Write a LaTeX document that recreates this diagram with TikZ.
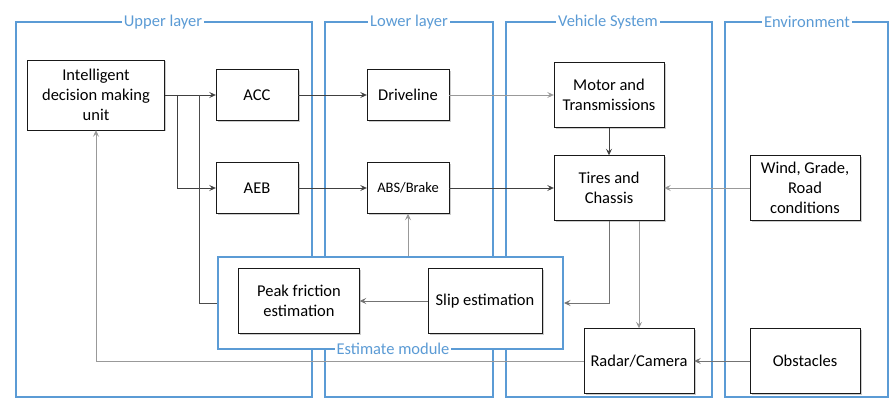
\documentclass[tikz,border=0pt]{standalone}
\usepackage{fontspec}
\setmainfont{Carlito}
\usetikzlibrary{arrows.meta, shadows, positioning}
\definecolor{layerblue}{RGB}{91,155,213}

\begin{document}
\begin{tikzpicture}[x=1pt, y=1pt, node distance=93pt, auto,
    block/.style={rectangle, draw=black!90, fill=white, align=center, inner sep=2pt, minimum width=82pt, minimum height=51pt, font=\fontsize{16.5}{20}\selectfont, drop shadow={shadow xshift=1.5pt, shadow yshift=-1.5pt, opacity=0.4}},
    big/.style={block, minimum width=110pt, minimum height=65pt},
    layer/.style={draw=layerblue, line width=2.4pt},
    title/.style={fill=white, text=layerblue, inner sep=2pt, font=\fontsize{16.5}{20}\selectfont},
    arrow/.style={->, >={Stealth[length=6.5pt, width=6pt, inset=2.5pt]}, line width=0.8pt, draw=black!75},
    faint/.style={arrow, draw=black!40},
    link/.style={line width=0.8pt, draw=black!70}]
    \useasboundingbox (0,0) rectangle (893,-398);

    \draw [layer] (16,-397) rectangle (312,-22);
    \draw [layer] (325,-397) rectangle (493,-22);
    \draw [layer] (506,-397) rectangle (712,-22);
    \draw [layer] (725,-397) rectangle (888,-22);
    \node [title] at (163,-22) {Upper layer};
    \node [title] at (409,-22) {Lower layer};
    \node [title] at (608,-22) {Vehicle System};
    \node [title] at (807,-22) {Environment};

    \node [draw=layerblue, line width=2pt, fill=white, minimum width=345pt, minimum height=92pt] (est) at (390.5,-303) {};
    \node [title] at (393,-349) {Estimate module};

    \node [block, minimum width=137pt, minimum height=70pt] (idmu) at (96,-95) {Intelligent\\decision making\\unit};
    \node [block, right of=idmu, node distance=161pt] (acc) {ACC};
    \node [block, below of=acc] (aeb) {AEB};
    \node [block, right of=acc, node distance=151pt] (drive) {Driveline};
    \node [block, below of=drive, font=\fontsize{14.5}{18}\selectfont] (abs) {ABS/Brake};
    \node [big, right of=drive, node distance=201pt] (motor) {Motor and\\Transmissions};
    \node [big, below of=motor] (tires) {Tires and\\Chassis};
    \node [big, right of=tires, node distance=196pt] (wind) {Wind, Grade,\\Road\\conditions};
    \node [big] (radar) at (639,-361) {Radar/Camera};
    \node [big, right of=radar, node distance=166pt] (obst) {Obstacles};
    \node [big, minimum width=121pt] (peak) at (299,-301) {Peak friction\\estimation};
    \node [big, minimum width=114pt, right of=peak, node distance=186pt] (slip) {Slip estimation};

    \draw [arrow] (idmu) -- (acc);
    \draw [arrow] ([xshift=13pt]idmu.east) |- (aeb);
    \draw [link] (est.west) -| ([xshift=35pt]idmu.east);
    \draw [arrow] (acc) -- (drive);
    \draw [arrow] (aeb) -- (abs);
    \draw [faint] (drive) -- (motor);
    \draw [arrow] (abs) -- (tires);
    \draw [arrow] (motor) -- (tires);
    \draw [faint] (wind) -- (tires);
    \draw [arrow, draw=black!55] (tires.south) |- (est.east);
    \draw [faint] ([xshift=30pt]tires.south) -- (radar.north);
    \draw [faint, draw=black!55] (obst) -- (radar);
    \draw [faint] (radar.west) -| (idmu.south);
    \draw [faint] (abs |- est.north) -- (abs.south);
    \draw [arrow, draw=black!55] (slip) -- (peak);
\end{tikzpicture}
\end{document}
